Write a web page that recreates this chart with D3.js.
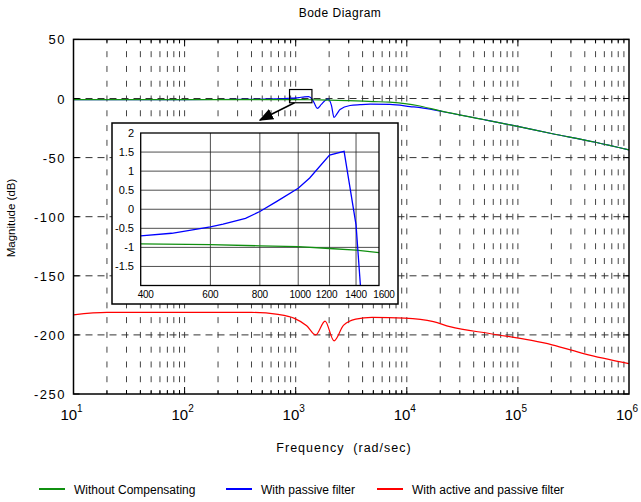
<!DOCTYPE html>
<html>
<head>
<meta charset="utf-8">
<script src="https://cdn.jsdelivr.net/npm/d3@7"></script>
<style>
  body { margin: 0; background: #fff; }
  svg { display: block; font-family: "Liberation Sans", Arial, sans-serif; }
</style>
</head>
<body>
<div id="chart"></div>
<script>
// series (frequency in rad/sec, magnitude in dB)
const freqGreen = [10, 100, 400, 600, 800, 1000, 1200, 1400, 1600, 2000, 3000, 5000, 7000, 10000, 12400, 20000, 50000, 90000, 200000, 500000, 1000000];
const dbGreen = [-0.9, -0.9, -0.91, -0.93, -0.96, -0.98, -1.03, -1.07, -1.14, -1.3, -1.8, -2.6, -3.1, -4.5, -5.9, -10.5, -18, -22.8, -29.6, -37, -43.5];

const freqBlue = [10, 100, 200, 400, 479, 600, 646, 736, 800, 881, 1000, 1069, 1200, 1306, 1400, 1436, 1480, 1563, 1700, 1850, 1963, 2100, 2213, 2350, 2506, 3083, 3795, 4670, 7060, 10700, 16200, 21400, 50000, 90000, 200000, 500000, 1000000];
const dbBlue = [-1.0, -0.95, -0.85, -0.70, -0.63, -0.46, -0.39, -0.24, -0.06, 0.2, 0.55, 0.82, 1.42, 1.52, -0.41, -2.0, -4.5, -8.4, -5, -1.5, -0.6, -6, -16, -13, -9.3, -5.9, -5.2, -4.8, -5.0, -6.8, -9.0, -11.2, -18, -22.8, -29.6, -37, -43.5];

const freqRed = [10, 20, 400, 693, 973, 1256, 1515, 1837, 2213, 2690, 3470, 4870, 9550, 17370, 24400, 56900, 133000, 203000, 398000, 1000000];
const dbRed = [-183, -181, -181, -182.7, -186, -192.2, -200, -188.3, -205, -192, -186.6, -185.2, -185.8, -188.8, -193, -199, -204.7, -208.4, -216, -224.3];

const seriesNames = ["Without Compensating", "With passive filter", "With active and passive filter"];
const yTicks = [50, 0, -50, -100, -150, -200, -250];
const xDecades = [1, 2, 3, 4, 5, 6];
const insetXTicks = [400, 600, 800, 1000, 1200, 1400, 1600];
const insetYTicks = [2, 1.5, 1, 0.5, 0, -0.5, -1, -1.5];
const zoomBox = { f: [880, 1400], db: [-3.6, 7.6] };

const W = 641, H = 502;
const svg = d3.select("#chart").append("svg").attr("width", W).attr("height", H);

const x = d3.scaleLog().domain([10, 1e6]).range([73.5, 629]);
const y = d3.scaleLinear().domain([-250, 50]).range([394, 39.4]);

const colors = { green: "#109010", blue: "#0000ff", red: "#ff0000" };

// grid
const minor = [];
for (let k = 1; k < 6; k++) for (let m = 1; m <= 9; m++) minor.push(m * Math.pow(10, k));
const period = (y(0) - y(50)) / 4;

svg.append("g").selectAll("line")
  .data(minor.filter(f => f > 10))
  .enter().append("line")
  .attr("x1", d => x(d)).attr("x2", d => x(d))
  .attr("y1", y(50)).attr("y2", y(-250))
  .attr("stroke", "#444").attr("stroke-width", 1)
  .attr("stroke-dasharray", `6,${period - 6}`)
  .attr("stroke-dashoffset", 3);

svg.append("g").selectAll("line")
  .data(yTicks.filter(v => v < 50 && v > -250))
  .enter().append("line")
  .attr("x1", x(10)).attr("x2", x(1e6))
  .attr("y1", d => y(d)).attr("y2", d => y(d))
  .attr("stroke", "#333").attr("stroke-width", 1)
  .attr("stroke-dasharray", "7,5");

// ticks on the box
const tk = svg.append("g").attr("stroke", "#000").attr("stroke-width", 1);
minor.filter(f => f > 10).forEach(f => {
  const len = Number.isInteger(Math.log10(f)) ? 7 : 4;
  tk.append("line").attr("x1", x(f)).attr("x2", x(f)).attr("y1", y(-250)).attr("y2", y(-250) - len);
  tk.append("line").attr("x1", x(f)).attr("x2", x(f)).attr("y1", y(50)).attr("y2", y(50) + len);
});
yTicks.forEach(v => {
  tk.append("line").attr("x1", x(10)).attr("x2", x(10) + 6).attr("y1", y(v)).attr("y2", y(v));
  tk.append("line").attr("x1", x(1e6)).attr("x2", x(1e6) - 6).attr("y1", y(v)).attr("y2", y(v));
});

// curves
svg.append("clipPath").attr("id", "clipMain").append("rect")
  .attr("x", x(10)).attr("y", y(50)).attr("width", x(1e6) - x(10)).attr("height", y(-250) - y(50));

const line = d3.line().x(d => x(d[0])).y(d => y(d[1])).curve(d3.curveMonotoneX);
const zip = (a, b) => a.map((v, i) => [v, b[i]]);

const plot = svg.append("g").attr("clip-path", "url(#clipMain)");
plot.append("path").attr("d", line(zip(freqBlue, dbBlue))).attr("fill", "none").attr("stroke", colors.blue).attr("stroke-width", 1.2);
plot.append("path").attr("d", line(zip(freqGreen, dbGreen))).attr("fill", "none").attr("stroke", colors.green).attr("stroke-width", 1.2);
plot.append("path").attr("d", line(zip(freqRed, dbRed))).attr("fill", "none").attr("stroke", colors.red).attr("stroke-width", 1.2);

// box
svg.append("rect")
  .attr("x", x(10)).attr("y", y(50)).attr("width", x(1e6) - x(10)).attr("height", y(-250) - y(50))
  .attr("fill", "none").attr("stroke", "#000").attr("stroke-width", 1.5);

// zoom rectangle and arrow
svg.append("rect")
  .attr("x", x(zoomBox.f[0])).attr("y", y(zoomBox.db[1]))
  .attr("width", x(zoomBox.f[1]) - x(zoomBox.f[0])).attr("height", y(zoomBox.db[0]) - y(zoomBox.db[1]))
  .attr("fill", "none").attr("stroke", "#000").attr("stroke-width", 1.2);

svg.append("defs").append("marker")
  .attr("id", "arrow").attr("viewBox", "0 0 10 10").attr("refX", 9).attr("refY", 5)
  .attr("markerWidth", 9).attr("markerHeight", 9).attr("orient", "auto")
  .append("path").attr("d", "M0,1 L10,5 L0,9 z").attr("fill", "#000");
svg.append("line")
  .attr("x1", x(zoomBox.f[0]) + 5).attr("y1", y(zoomBox.db[0]))
  .attr("x2", 260).attr("y2", 120)
  .attr("stroke", "#000").attr("stroke-width", 1.6)
  .attr("marker-end", "url(#arrow)");

// y tick labels
svg.append("g").selectAll("text").data(yTicks).enter().append("text")
  .attr("x", 66).attr("y", d => y(d) + 5)
  .attr("text-anchor", "end")
  .style("font-size", "13px").style("letter-spacing", "1.5px")
  .text(d => d);

// x tick labels 10^n
const xl = svg.append("g").selectAll("text").data(xDecades).enter().append("text")
  .attr("x", d => x(Math.pow(10, d)) - 2).attr("y", 420)
  .attr("text-anchor", "middle")
  .style("font-size", "15px");
xl.append("tspan").text("10");
xl.append("tspan").attr("dy", -8).style("font-size", "10px").text(d => d);

// titles
svg.append("text").attr("x", 340).attr("y", 16.5).attr("text-anchor", "middle")
  .style("font-size", "12px").style("letter-spacing", "0.5px").text("Bode Diagram");
svg.append("text").attr("x", 344).attr("y", 452).attr("text-anchor", "middle")
  .style("font-size", "12.5px").style("letter-spacing", "1px").attr("xml:space", "preserve")
  .text("Frequency  (rad/sec)");
svg.append("text").attr("transform", "translate(15,218) rotate(-90)").attr("text-anchor", "middle")
  .style("font-size", "11.5px").text("Magnitude (dB)");

// inset
const ix = d3.scaleLog().domain([400, 1600]).range([140.7, 379]);
const iy = d3.scaleLinear().domain([-2, 2]).range([285.5, 133]);

svg.append("rect").attr("x", 112).attr("y", 123).attr("width", 286).attr("height", 181)
  .attr("fill", "#fff").attr("stroke", "#000").attr("stroke-width", 1.5);

const inset = svg.append("g");
inset.selectAll(".ig").data(insetXTicks.slice(1, -1)).enter().append("line")
  .attr("x1", d => ix(d)).attr("x2", d => ix(d)).attr("y1", iy(2)).attr("y2", iy(-2))
  .attr("stroke", "#222").attr("stroke-width", 0.8);
inset.selectAll(".ih").data(insetYTicks.slice(1)).enter().append("line")
  .attr("x1", ix(400)).attr("x2", ix(1600)).attr("y1", d => iy(d)).attr("y2", d => iy(d))
  .attr("stroke", "#222").attr("stroke-width", 0.8);

svg.append("clipPath").attr("id", "clipInset").append("rect")
  .attr("x", ix(400)).attr("y", iy(2)).attr("width", ix(1600) - ix(400)).attr("height", iy(-2) - iy(2));

const iline = d3.line().x(d => ix(d[0])).y(d => iy(d[1]));
const ip = svg.append("g").attr("clip-path", "url(#clipInset)");
ip.append("path").attr("d", iline(zip(freqGreen, dbGreen))).attr("fill", "none").attr("stroke", colors.green).attr("stroke-width", 1.3);
ip.append("path").attr("d", iline(zip(freqBlue, dbBlue))).attr("fill", "none").attr("stroke", colors.blue).attr("stroke-width", 1.3);

svg.append("rect").attr("x", ix(400)).attr("y", iy(2))
  .attr("width", ix(1600) - ix(400)).attr("height", iy(-2) - iy(2))
  .attr("fill", "none").attr("stroke", "#000").attr("stroke-width", 1.3);

svg.append("g").selectAll("text").data(insetYTicks).enter().append("text")
  .attr("x", 134).attr("y", d => iy(d) + 4)
  .attr("text-anchor", "end").style("font-size", "11px")
  .text(d => d);
const insetLabelShift = [5, 0, 0, 2, -3, 0, 5];
svg.append("g").selectAll("text").data(insetXTicks).enter().append("text")
  .attr("x", (d, i) => ix(d) + insetLabelShift[i]).attr("y", 298)
  .attr("text-anchor", "middle").style("font-size", "10px").style("letter-spacing", "-0.2px")
  .text(d => d);

// legend
const legendColors = [colors.green, colors.blue, colors.red];
const legendX = [39, 226, 377];
const lg = svg.append("g").selectAll("g").data(seriesNames).enter().append("g")
  .attr("transform", (d, i) => `translate(${legendX[i]},489)`);
lg.append("line").attr("x1", 0).attr("x2", 26).attr("y1", 0).attr("y2", 0)
  .attr("stroke", (d, i) => legendColors[i]).attr("stroke-width", 2);
lg.append("text").attr("x", 35).attr("y", 4.5).style("font-size", "12px").text(d => d);
</script>
</body>
</html>
